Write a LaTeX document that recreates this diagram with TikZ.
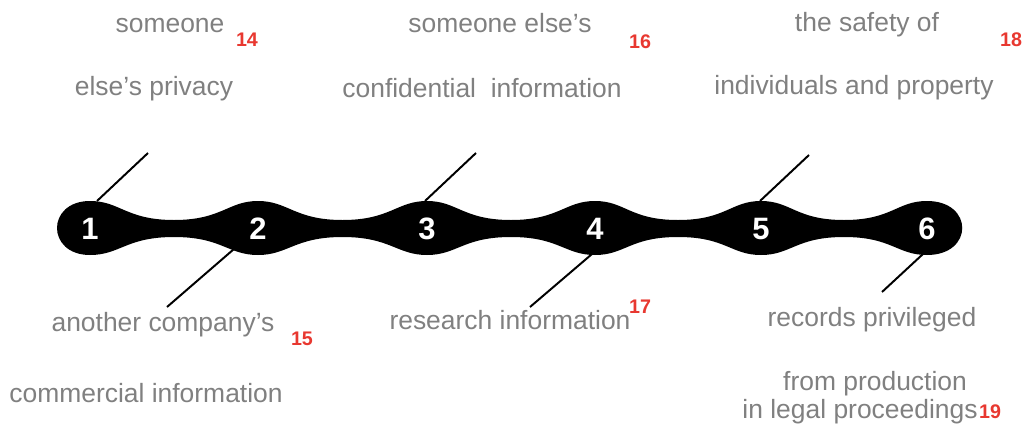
\documentclass[tikz,border=0pt]{standalone}
\usepackage{fontspec}
\setmainfont{Liberation Sans}
\usetikzlibrary{positioning}
\definecolor{labelgray}{RGB}{128,128,128}
\definecolor{notered}{RGB}{232,56,48}
\tikzset{
  txt/.style = {anchor = base, inner sep = 0pt, text = labelgray, font = \fontsize{18.8}{22}\selectfont},
  note/.style = {anchor = base, inner sep = 0pt, text = notered, font = \fontsize{14}{16}\selectfont\bfseries},
  num/.style = {inner sep = 0pt, text = white, font = \fontsize{22}{26}\selectfont\bfseries},
  stick/.style = {line width = 1.4pt}
}

\begin{document}
\begin{tikzpicture} [x = 0.025cm, y = -0.025cm]
\useasboundingbox (0, 0) rectangle (1027, 428);
% the chain
\fill[black] (90, 201)
  .. controls (120, 201) and (126, 220) .. (174, 220)
  .. controls (222, 220) and (228, 201) .. (258, 201)
  .. controls (288, 201) and (294.5, 220) .. (342.5, 220)
  .. controls (390.5, 220) and (397, 201) .. (427, 201)
  .. controls (457, 201) and (463, 220) .. (511, 220)
  .. controls (559, 220) and (565, 201) .. (595, 201)
  .. controls (625, 201) and (630, 220) .. (678, 220)
  .. controls (726, 220) and (731, 201) .. (761, 201)
  .. controls (791, 201) and (796, 220) .. (844, 220)
  .. controls (892, 220) and (897, 201) .. (927, 201)
  .. controls (974, 201) and (974, 255) .. (927, 255)
  .. controls (897, 255) and (892, 237) .. (844, 237)
  .. controls (796, 237) and (791, 255) .. (761, 255)
  .. controls (731, 255) and (726, 237) .. (678, 237)
  .. controls (630, 237) and (625, 255) .. (595, 255)
  .. controls (565, 255) and (559, 237) .. (511, 237)
  .. controls (463, 237) and (457, 255) .. (427, 255)
  .. controls (397, 255) and (390.5, 237) .. (342.5, 237)
  .. controls (294.5, 237) and (288, 255) .. (258, 255)
  .. controls (228, 255) and (222, 237) .. (174, 237)
  .. controls (126, 237) and (120, 255) .. (90, 255)
  .. controls (46, 255) and (46, 201) .. cycle;
\node[num] (n1) at (90, 229){1};
\node[num] (n2) at (258, 229){2};
\node[num] (n3) at (427, 229){3};
\node[num] (n4) at (595, 229){4};
\node[num] (n5) at (761, 229){5};
\node[num] (n6) at (927, 229){6};
% sticks
\coordinate (s1) at (97, 201);
\coordinate (e1) at (148, 153);
\coordinate (s2) at (234, 249);
\coordinate (e2) at (167, 307);
\coordinate (s3) at (425, 201);
\coordinate (e3) at (476, 153);
\coordinate (s4) at (592, 254);
\coordinate (e4) at (530, 307);
\coordinate (s5) at (760, 201);
\coordinate (e5) at (809, 155);
\coordinate (s6) at (923, 254);
\coordinate (e6) at (882, 292);
\draw[stick] (s1) -- (e1);
\draw[stick] (s2) -- (e2);
\draw[stick] (s3) -- (e3);
\draw[stick] (s4) -- (e4);
\draw[stick] (s5) -- (e5);
\draw[stick] (s6) -- (e6);
% labels
\node[txt] (a1) at (170, 32){someone};
\node[txt] (a2) at (154, 95){else’s privacy};
\node[note] (f14) at (247, 46){14};
\node[txt] (b1) at (163, 331){another company’s};
\node[txt] (b2) at (146, 402){commercial information};
\node[note] (f15) at (302, 345){15};
\node[txt] (c1) at (500, 32){someone else’s};
\node[txt] (c2) at (482, 97){confidential~ information};
\node[note] (f16) at (640, 48){16};
\node[txt] (d1) at (510, 329){research information};
\node[note] (f17) at (640, 313){17};
\node[txt] (g1) at (867, 31){the safety of};
\node[txt] (g2) at (854, 94){individuals and property};
\node[note] (f18) at (1011, 46){18};
\node[txt] (h1) at (872, 326){records privileged};
\node[txt] (h2) at (875, 390){from production};
\node[txt] (h3) at (860, 418){in legal proceedings};
\node[note] (f19) at (990, 418){19};
\end{tikzpicture}
\end{document}
